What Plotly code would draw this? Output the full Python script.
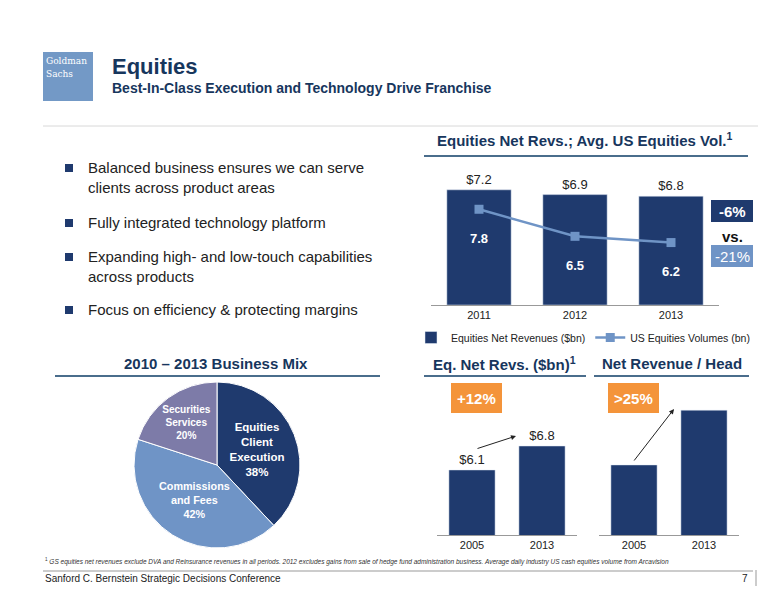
import plotly.graph_objects as go

W, H = 776, 600

# data
years_top = ["2011", "2012", "2013"]
net_revs = [7.2, 6.9, 6.8]
us_volumes = [7.8, 6.5, 6.2]

mix_labels = ["Equities<br>Client<br>Execution", "Commissions<br>and Fees", "Securities<br>Services"]
mix_values = [38, 42, 20]

years_bottom = ["2005", "2013"]
eq_net_revs = [6.1, 6.8]
rev_per_head = [1.0, 1.25]  # index, no values shown

bullets = [
    "Balanced business ensures we can serve<br>clients across product areas",
    "Fully integrated technology platform",
    "Expanding high- and low-touch capabilities<br>across products",
    "Focus on efficiency & protecting margins",
]
bullet_y = [160, 215, 249, 302]

NAVY = "#1f3a6e"
LIGHT = "#6f94c6"
PURPLE = "#7d7ba8"
ORANGE = "#f4943a"
HEAD = "#17365d"
FONT = "Liberation Sans"


def px(x):
    return x / W


def py(y):
    return 1 - y / H


fig = go.Figure()

# top chart
fig.add_trace(go.Bar(x=years_top, y=net_revs, marker_color=NAVY, width=0.67,
                     name="Equities Net Revenues ($bn)",
                     text=["$%.1f" % v for v in net_revs], textposition="outside",
                     textfont=dict(size=13, color="#222"), cliponaxis=False,
                     xaxis="x", yaxis="y"))
fig.add_trace(go.Scatter(x=years_top, y=us_volumes, mode="lines+markers+text",
                         line=dict(color=LIGHT, width=2.5),
                         marker=dict(symbol="square", size=9, color=LIGHT),
                         name="US Equities Volumes (bn)",
                         text=["<br><b>%.1f</b>" % v for v in us_volumes], textposition="bottom center",
                         textfont=dict(size=13, color="white"),
                         xaxis="x", yaxis="y2"))

# pie
fig.add_trace(go.Pie(labels=mix_labels, values=mix_values, sort=False, direction="clockwise",
                     rotation=0, marker=dict(colors=[NAVY, LIGHT, PURPLE], line=dict(color="white", width=1)),
                     texttemplate="<b>%{label}<br>%{value}%</b>", textposition="inside",
                     insidetextorientation="horizontal",
                     textfont=dict(size=13, color="white", family=FONT),
                     domain=dict(x=[px(126), px(292)], y=[py(540), py(374)]),
                     showlegend=False, hoverinfo="label+percent"))

# bottom charts
fig.add_trace(go.Bar(x=years_bottom, y=eq_net_revs, marker_color=NAVY, width=0.66,
                     text=["$%.1f" % v for v in eq_net_revs], textposition="outside",
                     textfont=dict(size=13, color="#222"), cliponaxis=False,
                     showlegend=False, xaxis="x3", yaxis="y3"))
fig.add_trace(go.Bar(x=years_bottom, y=rev_per_head, marker_color=NAVY, width=0.66,
                     showlegend=False, xaxis="x4", yaxis="y4"))

tick = dict(size=11, color="#222", family=FONT)
fig.update_layout(
    width=W, height=H, margin=dict(l=0, r=0, t=0, b=0),
    paper_bgcolor="white", plot_bgcolor="white",
    font=dict(family=FONT),
    xaxis=dict(domain=[px(423), px(711)], showline=True, linecolor="#999", ticks="", tickfont=tick,
               anchor="y", range=[-0.5, 2.5]),
    yaxis=dict(domain=[py(297), py(169)], range=[0, 8], visible=False),
    yaxis2=dict(overlaying="y", range=[3.2, 9.35], visible=False),
    xaxis3=dict(domain=[px(429), px(569)], showline=True, linecolor="#999", tickfont=tick,
                anchor="y3", range=[-0.5, 1.5]),
    yaxis3=dict(domain=[py(527), py(375)], range=[4.2, 8.64], visible=False, anchor="x3"),
    xaxis4=dict(domain=[px(591), px(731)], showline=True, linecolor="#999", tickfont=tick,
                anchor="y4", range=[-0.5, 1.5]),
    yaxis4=dict(domain=[py(527), py(375)], range=[0.68, 1.374], visible=False, anchor="x4"),
    legend=dict(orientation="h", x=px(403), y=py(315), xanchor="left", yanchor="top",
                font=dict(size=10.5, color="#222"), itemwidth=30, tracegroupgap=0),
)

shapes = []
ann = []


def text(x, y, s, size, color="#222", bold=False, xanchor="left"):
    if bold:
        s = "<b>" + s + "</b>"
    ann.append(dict(x=px(x), y=py(y), xref="paper", yref="paper", text=s, showarrow=False,
                    xanchor=xanchor, yanchor="middle", align="left",
                    font=dict(size=size, color=color, family=FONT)))


def rect(x0, y0, x1, y1, color):
    shapes.append(dict(type="rect", xref="paper", yref="paper", x0=px(x0), x1=px(x1),
                       y0=py(y1), y1=py(y0), fillcolor=color, line=dict(width=0), layer="below"))


def line(x0, y0, x1, y1, color, w=1.5):
    shapes.append(dict(type="line", xref="paper", yref="paper", x0=px(x0), x1=px(x1),
                       y0=py(y0), y1=py(y1), line=dict(color=color, width=w)))


# header
rect(35, 44, 85, 93, "#7399c6")
ann.append(dict(x=px(36), y=py(45), xref="paper", yref="paper", showarrow=False, xanchor="left",
                yanchor="top", align="left", text="Goldman<br>Sachs",
                font=dict(size=10, color="white", family="DejaVu Serif Condensed")))
text(102, 58, "Equities", 22, HEAD, True)
text(102, 80, "Best-In-Class Execution and Technology Drive Franchise", 14, HEAD, True)
line(35, 118, 750, 118, "#d8d8d8", 1)

# bullets
for s, y in zip(bullets, bullet_y):
    rect(57, y - 4, 65, y + 4, NAVY)
    ann.append(dict(x=px(78), y=py(y - 11), xref="paper", yref="paper",
                    showarrow=False, xanchor="left", yanchor="top", align="left", text=s,
                    font=dict(size=15, color="#222", family=FONT)))

# section headings
text(577, 132, "Equities Net Revs.; Avg. US Equities Vol.<sup>1</sup>", 15, HEAD, True, xanchor="center")
line(416, 148, 740, 148, "#4a6d8c", 2)
text(208, 355, "2010 – 2013 Business Mix", 15, HEAD, True, xanchor="center")
line(47, 368, 372, 368, "#4a6d8c", 2)
text(497, 355, "Eq. Net Revs. ($bn)<sup>1</sup>", 15, HEAD, True, xanchor="center")
line(416, 368, 578, 368, "#4a6d8c", 2)
text(664, 355, "Net Revenue / Head", 15, HEAD, True, xanchor="center")
line(586, 368, 741, 368, "#4a6d8c", 2)

# boxes top chart
rect(703, 192, 745, 214, NAVY)
text(724, 203, "-6%", 15, "white", True, xanchor="center")
text(724, 228, "vs.", 15, "#111", True, xanchor="center")
rect(703, 237, 745, 259, LIGHT)
text(724, 248, "-21%", 15, "white", False, xanchor="center")

# orange boxes
rect(443, 375, 494, 405, ORANGE)
text(468, 391, "+12%", 15, "white", True, xanchor="center")
rect(600, 375, 651, 405, ORANGE)
text(625, 391, ">25%", 15, "white", True, xanchor="center")

# arrows
for (x0, y0, x1, y1) in [(468, 441, 508, 428), (625, 454, 666, 401)]:
    ann.append(dict(x=px(x1), y=py(y1), ax=x0 - x1, ay=y0 - y1, xref="paper", yref="paper",
                    axref="pixel", ayref="pixel", text="", showarrow=True, arrowhead=2,
                    arrowsize=1, arrowwidth=1, arrowcolor="#222"))

# footer
text(35, 553, "<sup>1</sup> <i>GS equities net revenues exclude DVA and Reinsurance revenues in all periods. 2012 excludes gains "
     "from sale of hedge fund administration business. Average daily industry US cash equities volume from Arcavision</i>",
     6.5, "#333")
line(35, 563, 745, 563, "#999", 1)
text(35, 570, "Sanford C. Bernstein Strategic Decisions Conference", 10, "#222")
text(742, 570, "7", 10, "#222", xanchor="right")
line(748, 562, 748, 578, "#999", 1)

fig.update_layout(shapes=shapes, annotations=ann)
fig.write_html("out.html")
